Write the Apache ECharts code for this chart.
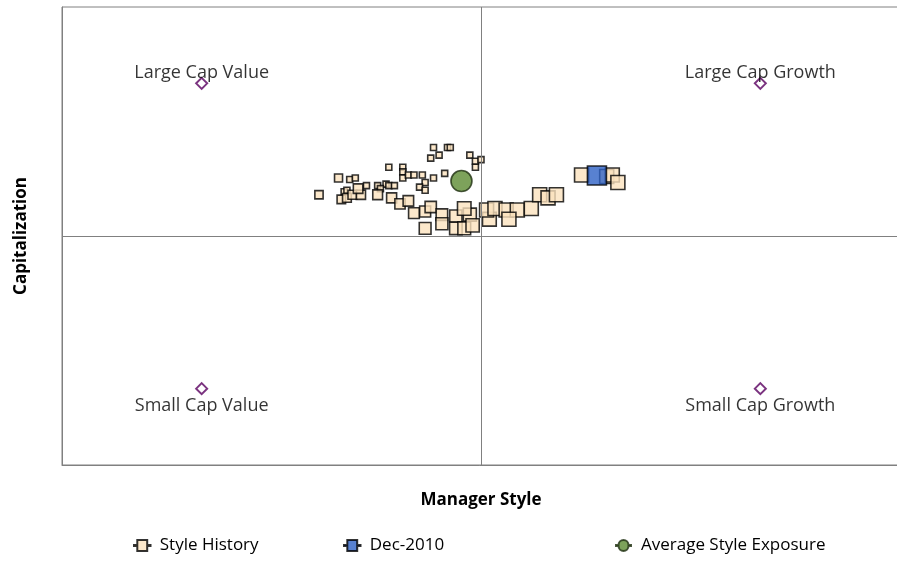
<!DOCTYPE html>
<html>
<head>
<meta charset="utf-8">
<script src="https://cdn.jsdelivr.net/npm/echarts@6/dist/echarts.min.js"></script>
<style>
  html, body { margin: 0; padding: 0; background: #fff; }
  #chart { width: 897px; height: 571px; }
</style>
</head>
<body>
<div id="chart"></div>
<script>
// style history, oldest first (x = value/growth, y = small/large cap)
const historyX = [-0.17, -0.12, -0.11, -0.18, -0.15, -0.04, -0.02, 0.00, -0.02, -0.33,
  -0.28, -0.28, -0.28, -0.26, -0.24, -0.21, -0.17, -0.13, -0.47, -0.45,
  -0.41, -0.37, -0.34, -0.33, -0.31, -0.20, -0.22, -0.20, -0.36, -0.49,
  -0.48, -0.51, -0.58, -0.50, -0.48, -0.46, -0.43, -0.44, -0.37, -0.32,
  -0.29, -0.26, -0.24, -0.20, -0.18, -0.14, -0.20, -0.14, -0.09, -0.09,
  -0.06, -0.04, -0.03, -0.06, 0.03, 0.02, 0.05, 0.09, 0.13, 0.10,
  0.18, 0.21, 0.24, 0.27, 0.36, 0.45, 0.47, 0.49]
const historyY = [0.58, 0.58, 0.58, 0.51, 0.53, 0.53, 0.49, 0.50, 0.45, 0.45,
  0.45, 0.42, 0.38, 0.40, 0.40, 0.40, 0.38, 0.41, 0.37, 0.38,
  0.33, 0.33, 0.34, 0.33, 0.33, 0.35, 0.32, 0.30, 0.31, 0.29,
  0.30, 0.38, 0.27, 0.24, 0.25, 0.27, 0.27, 0.31, 0.27, 0.25,
  0.21, 0.23, 0.15, 0.16, 0.19, 0.14, 0.05, 0.08, 0.13, 0.05,
  0.05, 0.14, 0.07, 0.18, 0.11, 0.17, 0.18, 0.17, 0.17, 0.11,
  0.18, 0.27, 0.25, 0.27, 0.40, 0.39, 0.40, 0.35]
const lastPoint = [0.415, 0.396]
const averagePoint = [-0.07, 0.36]
const cornerNames = ['Large Cap Value', 'Large Cap Growth', 'Small Cap Value', 'Small Cap Growth']
const cornerX = [-1, 1, -1, 1]
const cornerY = [1, 1, -1, -1]

const font = '"Open Sans", Lato, sans-serif'
const nSmall = 31

const chart = echarts.init(document.getElementById('chart'))

const legendBase = {
  bottom: 12,
  itemWidth: 17,
  itemHeight: 11,
  textStyle: { fontFamily: font, fontSize: 17, color: '#000', padding: [0, 0, 0, 4] }
}

const option = {
  animation: false,
  grid: { left: 62, right: -3, top: 7, bottom: 106, outerBoundsMode: 'none', containLabel: false,
    show: true, borderColor: '#808080', borderWidth: 1 },
  xAxis: {
    type: 'value', min: -1.5, max: 1.5,
    name: 'Manager Style', nameLocation: 'middle', nameGap: 27,
    nameTextStyle: { fontFamily: font, fontSize: 17, fontWeight: 'bold', color: '#000' },
    axisLine: { show: true, onZero: false, lineStyle: { color: '#808080' } },
    axisTick: { show: false }, axisLabel: { show: false }, splitLine: { show: false }
  },
  yAxis: {
    type: 'value', min: -1.5, max: 1.5,
    name: 'Capitalization', nameLocation: 'middle', nameGap: 32,
    nameTextStyle: { fontFamily: font, fontSize: 17, fontWeight: 'bold', color: '#000' },
    axisLine: { show: true, onZero: false, lineStyle: { color: '#808080' } },
    axisTick: { show: false }, axisLabel: { show: false }, splitLine: { show: false }
  },
  legend: [
    Object.assign({ left: 128, data: [{ name: 'Style History',
      icon: 'path://M0,4.5H3V0H12V4.5H15V5.5H12V10H3V5.5H0Z' }] }, legendBase),
    Object.assign({ left: 338, data: [{ name: 'Dec-2010',
      icon: 'path://M0,4.5H3V0H12V4.5H15V5.5H12V10H3V5.5H0Z' }] }, legendBase),
    Object.assign({ left: 610, data: [{ name: 'Average Style Exposure',
      icon: 'path://M0,4.5H2.5A5,5 0 0 1 12.5,4.5H15V5.5H12.5A5,5 0 0 1 2.5,5.5H0Z' }] }, legendBase)
  ],
  series: [
    {
      name: 'corners',
      type: 'scatter',
      symbol: 'diamond',
      symbolSize: 11,
      itemStyle: { color: '#fff', borderColor: '#5A0060', borderWidth: 2 },
      data: cornerNames.map((n, i) => ({
        name: n,
        value: [cornerX[i], cornerY[i]],
        label: {
          show: true,
          position: cornerY[i] > 0 ? 'top' : 'bottom',
          distance: cornerY[i] > 0 ? -5 : 2,
          formatter: '{b}',
          fontFamily: font, fontSize: 18, color: '#000'
        }
      })),
      markLine: {
        silent: true,
        symbol: 'none',
        label: { show: false },
        lineStyle: { color: '#808080', type: 'solid', width: 1 },
        data: [{ xAxis: 0 }, { yAxis: 0 }]
      },
      z: 2
    },
    {
      name: 'Style History',
      type: 'scatter',
      symbol: 'rect',
      symbolSize: (v, p) => p.dataIndex < nSmall ? 6 : Math.min(14, 8 + (p.dataIndex - nSmall) * 0.25),
      itemStyle: { color: '#FBE2BE', borderColor: '#000', borderWidth: 1.6 },
      data: historyX.map((x, i) => [x, historyY[i]]),
      z: 3
    },
    {
      name: 'Dec-2010',
      type: 'scatter',
      symbol: 'rect',
      symbolSize: 19,
      itemStyle: { color: '#2E62C6', borderColor: '#000', borderWidth: 1.6 },
      data: [lastPoint],
      z: 4
    },
    {
      name: 'Average Style Exposure',
      type: 'scatter',
      symbol: 'circle',
      symbolSize: 21,
      itemStyle: { color: '#5D8B32', borderColor: '#1E2E10', borderWidth: 1.6 },
      data: [averagePoint],
      z: 4
    }
  ]
}
chart.setOption(option)
</script>
</body>
</html>
